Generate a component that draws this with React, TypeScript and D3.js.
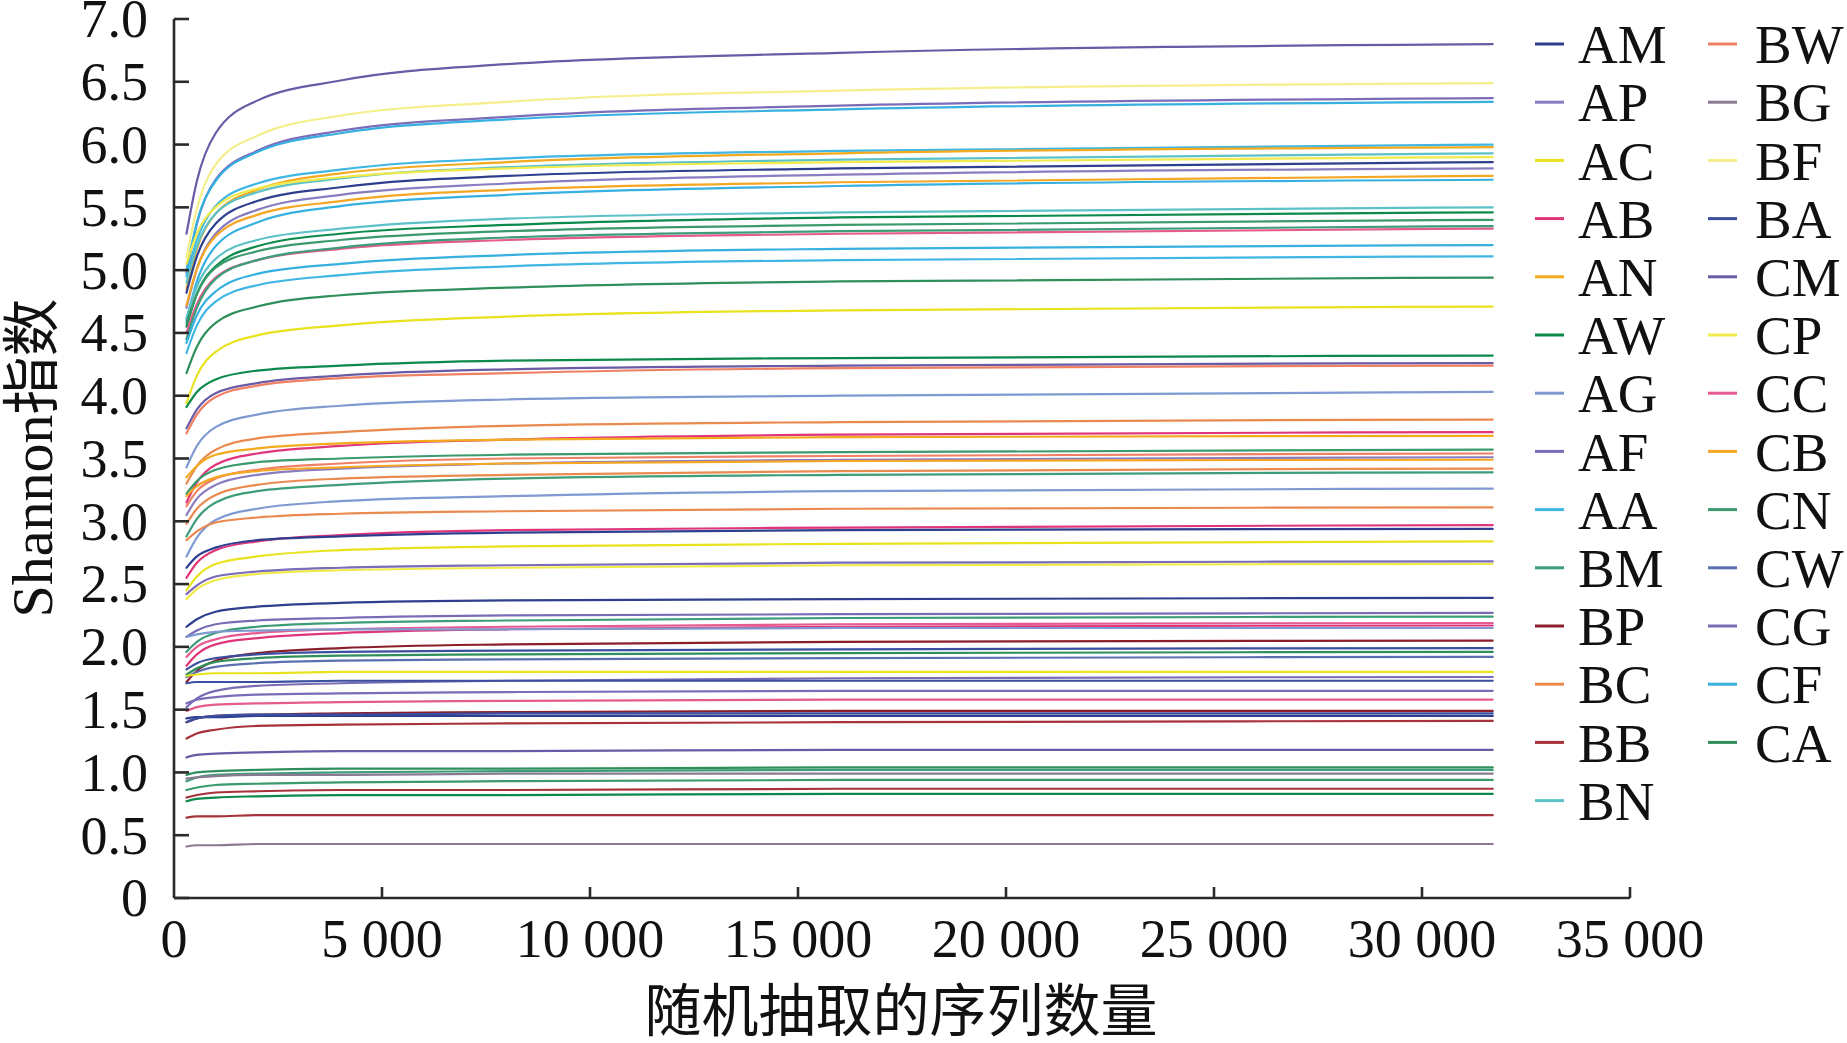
import React from "react";
import * as d3 from "d3";

// ---- data ----
const legendNames = [
  "AM", "AP", "AC", "AB", "AN", "AW", "AG", "AF", "AA", "BM", "BP", "BC", "BB", "BN",
  "BW", "BG", "BF", "BA", "CM", "CP", "CC", "CB", "CN", "CW", "CG", "CF", "CA",
];
const legendColors = [
  "#2e3f8f", "#8a7cc0", "#e8e31e", "#e0357a", "#f2aa1f", "#0b8a4b", "#7f9ad0", "#7b6bb8", "#3fb6e3", "#3d9d78", "#8b1e2b", "#ea8a4f", "#a8323a", "#5cc2c8",
  "#ef8063", "#8a7a8f", "#f4ef8a", "#3a4fa0", "#6b5aa5", "#f0ea4a", "#e55a8f", "#f5a623", "#3a9a6e", "#5a6fb0", "#7a6bb5", "#35b0e0", "#2e8f5a",
];

const depths = [300, 550, 1000, 2000, 4000, 8000, 16000, 31700];

const curveSamples = [
  "CM", "BF", "AF", "CF", "AA", "AN", "BN", "CP", "AM", "AP", "CB", "CF", "BN", "AW", "CN", "CC", "BM",
  "CF", "AA", "CA", "AC", "AW", "CM", "BW", "AG", "BC", "AB", "AN", "CN", "BW", "AP", "CB", "BC", "BM",
  "AG", "BC", "AB", "AM", "AC", "CP", "AF", "AM", "CG", "BM", "CC", "AB", "AG", "BP", "BA", "CA", "CW",
  "AC", "CG", "BA", "AF", "CC", "BP", "AM", "BA", "BB", "CM", "CA", "BM", "BG", "CN", "BB", "AW", "BB", "BG",
];

const curveValues = [
  [5.29, 5.71, 6.09, 6.35, 6.51, 6.64, 6.73, 6.80],
  [5.10, 5.49, 5.84, 6.07, 6.23, 6.34, 6.43, 6.49],
  [4.98, 5.37, 5.72, 5.95, 6.11, 6.22, 6.31, 6.37],
  [5.00, 5.38, 5.71, 5.94, 6.09, 6.20, 6.28, 6.34],
  [4.95, 5.24, 5.51, 5.69, 5.80, 5.89, 5.95, 6.00],
  [4.85, 5.17, 5.45, 5.64, 5.77, 5.86, 5.93, 5.98],
  [4.90, 5.19, 5.45, 5.62, 5.73, 5.82, 5.88, 5.93],
  [5.05, 5.29, 5.50, 5.65, 5.74, 5.81, 5.86, 5.90],
  [4.82, 5.11, 5.37, 5.55, 5.66, 5.75, 5.81, 5.86],
  [4.70, 5.01, 5.29, 5.48, 5.60, 5.69, 5.76, 5.81],
  [4.72, 5.01, 5.27, 5.44, 5.55, 5.64, 5.70, 5.75],
  [4.60, 4.91, 5.19, 5.38, 5.51, 5.60, 5.67, 5.72],
  [4.62, 4.87, 5.09, 5.24, 5.33, 5.41, 5.46, 5.50],
  [4.55, 4.81, 5.03, 5.19, 5.29, 5.36, 5.42, 5.46],
  [4.58, 4.81, 5.02, 5.15, 5.24, 5.31, 5.36, 5.40],
  [4.50, 4.73, 4.94, 5.08, 5.17, 5.24, 5.29, 5.33],
  [4.45, 4.70, 4.93, 5.08, 5.18, 5.26, 5.31, 5.35],
  [4.42, 4.64, 4.83, 4.97, 5.05, 5.12, 5.17, 5.20],
  [4.34, 4.56, 4.75, 4.88, 4.96, 5.03, 5.08, 5.11],
  [4.18, 4.39, 4.58, 4.71, 4.80, 4.86, 4.91, 4.94],
  [3.94, 4.16, 4.35, 4.48, 4.56, 4.63, 4.68, 4.71],
  [3.91, 4.03, 4.13, 4.20, 4.24, 4.28, 4.30, 4.32],
  [3.74, 3.89, 4.02, 4.10, 4.16, 4.21, 4.24, 4.26],
  [3.70, 3.85, 3.99, 4.08, 4.14, 4.18, 4.22, 4.24],
  [3.43, 3.60, 3.75, 3.85, 3.92, 3.97, 4.00, 4.03],
  [3.30, 3.44, 3.57, 3.66, 3.71, 3.76, 3.79, 3.81],
  [3.15, 3.31, 3.45, 3.54, 3.60, 3.65, 3.69, 3.71],
  [3.35, 3.44, 3.53, 3.58, 3.62, 3.65, 3.67, 3.68],
  [3.22, 3.32, 3.41, 3.47, 3.50, 3.53, 3.55, 3.57],
  [3.12, 3.24, 3.34, 3.41, 3.46, 3.50, 3.52, 3.54],
  [3.05, 3.18, 3.29, 3.37, 3.42, 3.46, 3.49, 3.51],
  [3.20, 3.28, 3.35, 3.40, 3.43, 3.46, 3.48, 3.49],
  [2.98, 3.10, 3.21, 3.29, 3.34, 3.37, 3.40, 3.42],
  [2.88, 3.02, 3.15, 3.24, 3.29, 3.34, 3.37, 3.39],
  [2.72, 2.87, 3.01, 3.10, 3.16, 3.20, 3.24, 3.26],
  [2.85, 2.92, 2.99, 3.03, 3.06, 3.08, 3.10, 3.11],
  [2.55, 2.67, 2.77, 2.84, 2.89, 2.93, 2.95, 2.97],
  [2.63, 2.72, 2.79, 2.85, 2.88, 2.91, 2.93, 2.94],
  [2.45, 2.56, 2.66, 2.72, 2.77, 2.80, 2.82, 2.84],
  [2.38, 2.46, 2.53, 2.58, 2.61, 2.63, 2.65, 2.66],
  [2.42, 2.49, 2.56, 2.60, 2.63, 2.65, 2.67, 2.68],
  [2.16, 2.22, 2.28, 2.32, 2.35, 2.37, 2.38, 2.39],
  [2.08, 2.13, 2.18, 2.21, 2.23, 2.25, 2.26, 2.27],
  [1.96, 2.04, 2.11, 2.16, 2.19, 2.21, 2.23, 2.24],
  [1.92, 2.00, 2.06, 2.11, 2.14, 2.16, 2.18, 2.19],
  [1.85, 1.94, 2.02, 2.07, 2.11, 2.14, 2.16, 2.17],
  [2.08, 2.10, 2.12, 2.13, 2.14, 2.14, 2.15, 2.15],
  [1.72, 1.81, 1.89, 1.95, 1.99, 2.02, 2.04, 2.05],
  [1.82, 1.87, 1.91, 1.94, 1.96, 1.97, 1.98, 1.99],
  [1.78, 1.83, 1.88, 1.91, 1.93, 1.94, 1.95, 1.96],
  [1.76, 1.80, 1.84, 1.87, 1.89, 1.90, 1.91, 1.92],
  [1.77, 1.78, 1.79, 1.79, 1.80, 1.80, 1.80, 1.80],
  [1.52, 1.59, 1.65, 1.69, 1.71, 1.73, 1.75, 1.76],
  [1.71, 1.72, 1.72, 1.72, 1.73, 1.73, 1.73, 1.73],
  [1.55, 1.58, 1.60, 1.62, 1.63, 1.64, 1.65, 1.65],
  [1.49, 1.52, 1.54, 1.55, 1.56, 1.57, 1.58, 1.58],
  [1.40, 1.43, 1.45, 1.46, 1.47, 1.48, 1.49, 1.49],
  [1.43, 1.44, 1.44, 1.45, 1.45, 1.45, 1.45, 1.45],
  [1.40, 1.43, 1.45, 1.46, 1.46, 1.47, 1.47, 1.47],
  [1.27, 1.31, 1.34, 1.37, 1.38, 1.39, 1.40, 1.41],
  [1.12, 1.14, 1.15, 1.16, 1.17, 1.17, 1.18, 1.18],
  [0.98, 1.00, 1.01, 1.02, 1.03, 1.03, 1.04, 1.04],
  [0.93, 0.96, 0.98, 0.99, 1.00, 1.01, 1.02, 1.02],
  [0.95, 0.96, 0.97, 0.98, 0.98, 0.99, 0.99, 0.99],
  [0.86, 0.88, 0.90, 0.91, 0.92, 0.93, 0.94, 0.94],
  [0.80, 0.82, 0.84, 0.85, 0.86, 0.86, 0.87, 0.87],
  [0.77, 0.79, 0.80, 0.81, 0.82, 0.82, 0.83, 0.83],
  [0.64, 0.65, 0.65, 0.66, 0.66, 0.66, 0.66, 0.66],
  [0.41, 0.42, 0.42, 0.43, 0.43, 0.43, 0.43, 0.43],
];

const xTicks = [0, 5000, 10000, 15000, 20000, 25000, 30000, 35000];
const yTicks = [0, 0.5, 1, 1.5, 2, 2.5, 3, 3.5, 4, 4.5, 5, 5.5, 6, 6.5, 7];
const xTitle = "随机抽取的序列数量";
const yTitle = "Shannon指数";

// ---- layout ----
const W = 1847;
const H = 1043;
const serif = "'Liberation Serif', 'Times New Roman', 'Noto Sans CJK SC', serif";
const cjk = "'Noto Sans CJK SC', sans-serif";

export default function App() {
  const x = d3.scaleLinear().domain([0, 35000]).range([174, 1630]);
  const y = d3.scaleLinear().domain([0, 7]).range([898, 19]);
  const colorOf = d3.scaleOrdinal<string, string>().domain(legendNames).range(legendColors);
  const line = d3
    .line<number>()
    .x((_, i) => x(depths[i]))
    .y((v) => y(v))
    .curve(d3.curveMonotoneX);

  const fmtX = (v: number) => (v === 0 ? "0" : d3.format(",")(v).replace(/,/g, " "));
  const fmtY = (v: number) => (v === 0 ? "0" : d3.format(".1f")(v));
  const axisColor = "#2a2a2a";

  const rowH = 58.2;
  const legY0 = 44;
  const cols = [
    { lx: 1535, tx: 1578 },
    { lx: 1708, tx: 1755 },
  ];

  return (
    <div style={{ position: "absolute", left: 0, top: 0 }}>
      <svg width={W} height={H} viewBox={`0 0 ${W} ${H}`} style={{ display: "block", background: "#fff" }}>
        <rect width={W} height={H} fill="#fff" />
        {/* curves */}
        <g fill="none" strokeWidth={2.2} strokeLinejoin="round" strokeLinecap="round">
          {curveValues.map((vals, i) => (
            <path key={i} d={line(vals) || ""} stroke={colorOf(curveSamples[i])} />
          ))}
        </g>
        {/* axes */}
        <g stroke={axisColor} strokeWidth={2.6} fill="none">
          <line x1={x(0)} x2={x(0)} y1={y(7)} y2={y(0)} />
          <line x1={x(0)} x2={x(35000)} y1={y(0)} y2={y(0)} />
          {yTicks.map((t) => (
            <line key={"yt" + t} x1={x(0)} x2={x(0) + 15} y1={y(t)} y2={y(t)} />
          ))}
          {xTicks.filter((t) => t > 0).map((t) => (
            <line key={"xt" + t} x1={x(t)} x2={x(t)} y1={y(0)} y2={y(0) - 11} />
          ))}
        </g>
        <g fontFamily={serif} fontSize={54} fill="#111">
          {yTicks.map((t) => (
            <text key={"yl" + t} x={148} y={y(t)} dy="0.34em" textAnchor="end">
              {fmtY(t)}
            </text>
          ))}
          {xTicks.map((t) => (
            <text key={"xl" + t} x={x(t)} y={957} textAnchor="middle">
              {fmtX(t)}
            </text>
          ))}
        </g>
        <text x={901} y={1031} textAnchor="middle" fontFamily={cjk} fontSize={57} fill="#111">
          {xTitle}
        </text>
        <text
          transform={`translate(52,458) rotate(-90)`}
          textAnchor="middle"
          fontFamily={serif}
          fontSize={58}
          fill="#111"
        >
          {yTitle}
        </text>
        {/* legend */}
        <g>
          {legendNames.map((name, i) => {
            const col = cols[i < 14 ? 0 : 1];
            const row = i < 14 ? i : i - 14;
            const cy = legY0 + row * rowH;
            return (
              <g key={name}>
                <line x1={col.lx} x2={col.lx + 29} y1={cy} y2={cy} stroke={legendColors[i]} strokeWidth={3} />
                <text x={col.tx} y={cy} dy="0.35em" fontFamily={serif} fontSize={55} fill="#111">
                  {name}
                </text>
              </g>
            );
          })}
        </g>
      </svg>
    </div>
  );
}
